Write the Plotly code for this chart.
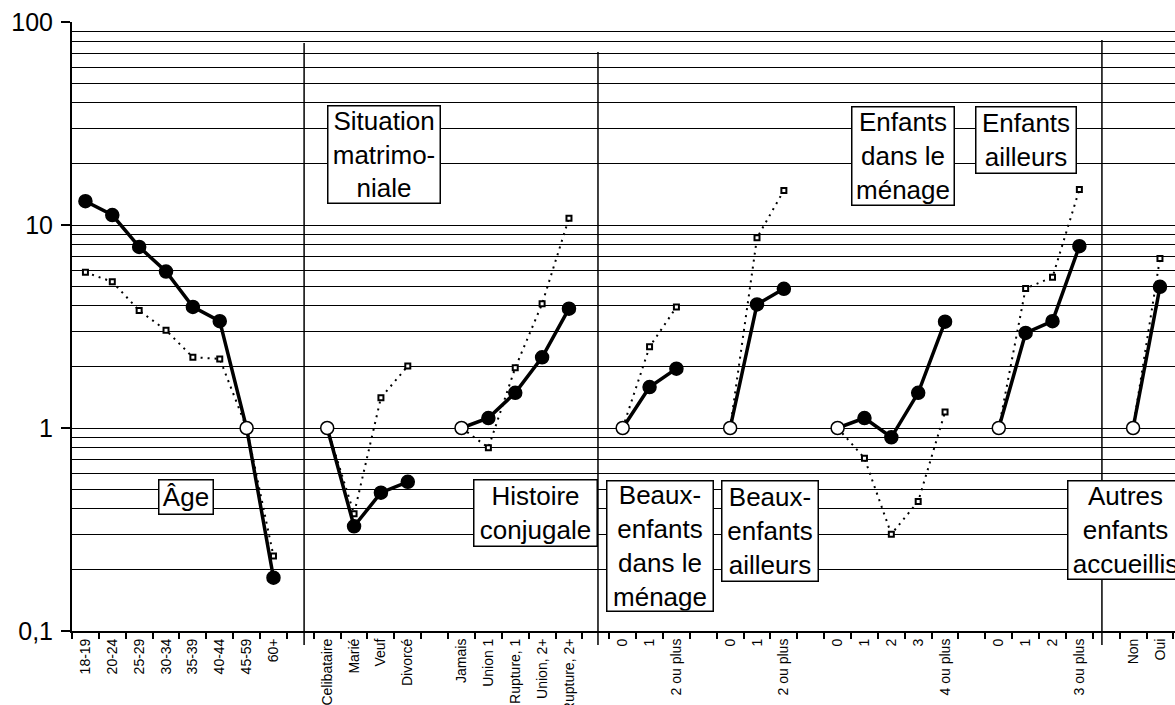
import plotly.graph_objects as go

# ---- data: relative ratios by group (reference category = 1) ----
age_labels = ["18-19", "20-24", "25-29", "30-34", "35-39", "40-44", "45-59", "60+"]
age_solid = [13.1, 11.2, 7.8, 5.9, 3.95, 3.36, 1, 0.183]
age_dotted = [5.85, 5.25, 3.79, 3.03, 2.23, 2.19, 1, 0.234]

mat_labels = ["Celibataire", "Marié", "Veuf", "Divorcé"]
mat_solid = [1, 0.328, 0.48, 0.543]
mat_dotted = [1, 0.378, 1.41, 2.02]

hist_labels = ["Jamais", "Union 1", "Rupture, 1", "Union, 2+", "Rupture, 2+"]
hist_solid = [1, 1.12, 1.49, 2.23, 3.87]
hist_dotted = [1, 0.80, 1.98, 4.09, 10.8]

bem_labels = ["0", "1", "2 ou plus"]
bem_solid = [1, 1.59, 1.96]
bem_dotted = [1, 2.51, 3.94]

bea_labels = ["0", "1", "2 ou plus"]
bea_solid = [1, 4.06, 4.85]
bea_dotted = [1, 8.65, 14.8]

enm_labels = ["0", "1", "2", "3", "4 ou plus"]
enm_solid = [1, 1.12, 0.90, 1.49, 3.34]
enm_dotted = [1, 0.71, 0.30, 0.435, 1.20]

ena_labels = ["0", "1", "2", "3 ou plus"]
ena_solid = [1, 2.94, 3.36, 7.86]
ena_dotted = [1, 4.87, 5.53, 14.96]

aut_labels = ["Non", "Oui"]
aut_solid = [1, 4.96]
aut_dotted = [1, 6.84]

y_tick_values = [0.1, 1, 10, 100]
y_tick_text = ["0,1", "1", "10", "100"]

groups = [
    (age_labels, age_solid, age_dotted),
    (mat_labels, mat_solid, mat_dotted),
    (hist_labels, hist_solid, hist_dotted),
    (bem_labels, bem_solid, bem_dotted),
    (bea_labels, bea_solid, bea_dotted),
    (enm_labels, enm_solid, enm_dotted),
    (ena_labels, ena_solid, ena_dotted),
    (aut_labels, aut_solid, aut_dotted),
]

# lay the groups out on one category axis, one empty slot between groups
xs, solid, dotted = [], [], []
tick_pos, tick_txt = [], []
pos = 0
for labs, s_vals, d_vals in groups:
    for lab, s, d in zip(labs, s_vals, d_vals):
        xs.append(pos)
        solid.append(s)
        dotted.append(d)
        tick_pos.append(pos)
        tick_txt.append(lab)
        pos += 1
    xs.append(pos)
    solid.append(None)
    dotted.append(None)
    pos += 1

solid_fill = ["white" if v == 1 else "black" for v in solid]

FONT = "Liberation Sans, Arial, sans-serif"

fig = go.Figure()

fig.add_trace(go.Scatter(
    x=xs, y=dotted, mode="lines+markers", connectgaps=False,
    line=dict(color="black", width=2, dash="2px,5px"),
    marker=dict(symbol="square", size=5, color="white",
                line=dict(color="black", width=2)),
    showlegend=False, hoverinfo="skip",
))

fig.add_trace(go.Scatter(
    x=xs, y=solid, mode="lines+markers", connectgaps=False,
    line=dict(color="black", width=3.5),
    marker=dict(symbol="circle", size=13, color=solid_fill,
                line=dict(color="black", width=1.5)),
    showlegend=False, hoverinfo="skip",
))

# vertical separators between blocks of variables (x in category units, top in paper units)
separators = [(8.14, 0.9655), (19.08, 0.9507), (37.84, 0.9704)]
for sx, top in separators:
    fig.add_shape(type="line", xref="x", yref="paper",
                  x0=sx, x1=sx, y0=-0.023, y1=top,
                  line=dict(color="black", width=1.5), layer="above")

# boxed group titles: (text, x, log10 y, width, height, xanchor)
boxes = [
    ("Âge", 3.74, -0.340, 53, 33, "center"),
    ("Situation<br>matrimo-<br>niale", 11.13, 1.345, 111, 96, "center"),
    ("Histoire<br>conjugale", 16.77, -0.421, 122, 65, "center"),
    ("Beaux-<br>enfants<br>dans le<br>ménage", 21.37, -0.579, 105, 129, "center"),
    ("Beaux-<br>enfants<br>ailleurs", 25.50, -0.505, 95, 99, "center"),
    ("Enfants<br>dans le<br>ménage", 30.42, 1.342, 101, 97, "center"),
    ("Enfants<br>ailleurs", 35.03, 1.421, 99, 65, "center"),
    ("Autres<br>enfants<br>accueillis", 36.54, -0.500, 114, 97, "left"),
]
for txt, bx, by, bw, bh, anc in boxes:
    fig.add_annotation(
        x=bx, y=by, xref="x", yref="y", text=txt, showarrow=False,
        xanchor=anc, yanchor="middle", width=bw, height=bh,
        align="center", valign="middle",
        font=dict(family=FONT, size=26, color="black"),
        bgcolor="white", bordercolor="black", borderwidth=1.5, borderpad=0,
    )

minor_grid = [m * 10 ** e for e in (-1, 0, 1) for m in range(2, 10)]

fig.update_layout(
    width=1175, height=705,
    margin=dict(l=72, r=0, t=22, b=74, autoexpand=False),
    paper_bgcolor="white", plot_bgcolor="white",
    font=dict(family=FONT, color="black"),
    xaxis=dict(
        range=[-0.5, 40.56], automargin=False,
        tickmode="array", tickvals=tick_pos, ticktext=tick_txt,
        tickangle=-90, ticks="", tickfont=dict(size=14, family=FONT),
        showgrid=False, zeroline=False,
        showline=True, linecolor="black", linewidth=2,
        minor=dict(ticks="outside", tick0=-0.5, dtick=1, ticklen=6,
                   tickwidth=1.5, tickcolor="black", showgrid=False),
    ),
    yaxis=dict(
        type="log", range=[-1, 2], automargin=False,
        tickmode="array", tickvals=y_tick_values, ticktext=y_tick_text,
        ticks="outside", ticklen=9, tickwidth=1.5, tickcolor="black",
        ticklabelstandoff=3,
        tickfont=dict(size=25, family=FONT),
        showgrid=True, gridcolor="black", gridwidth=1.3,
        showline=True, linecolor="black", linewidth=2, zeroline=False,
        minor=dict(tickmode="array", tickvals=minor_grid, ticks="",
                   showgrid=True, gridcolor="black", gridwidth=1.3),
    ),
)

fig.write_html("out.html")
